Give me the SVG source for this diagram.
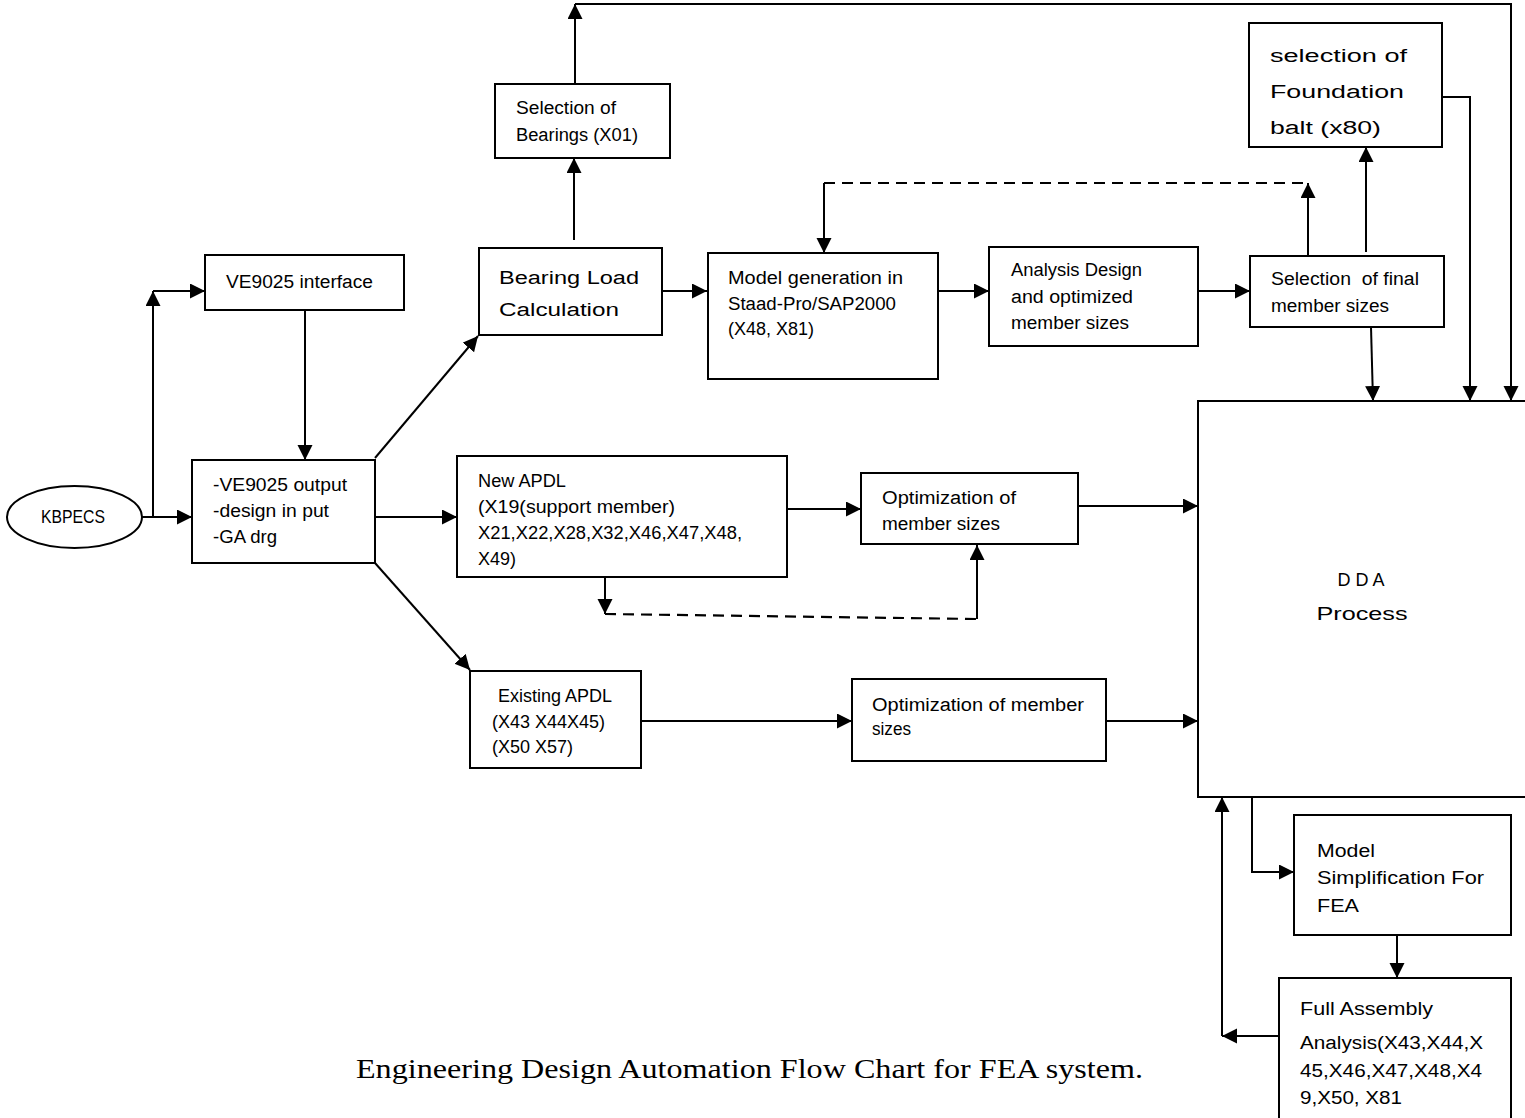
<svg xmlns="http://www.w3.org/2000/svg" width="1525" height="1118" viewBox="0 0 1525 1118">
<style>
.box{fill:#fff;stroke:#000;stroke-width:2}
.t{font-family:"Liberation Sans",Arial,sans-serif;fill:#000;font-size:18px}
.c{fill:none;stroke:#000;stroke-width:2}
.d{fill:none;stroke:#000;stroke-width:2.2;stroke-dasharray:11 7}
.cap{font-family:"Liberation Serif","Times New Roman",serif;font-size:27px;fill:#000}
</style>
<defs>
<marker id="ah" markerUnits="userSpaceOnUse" markerWidth="16" markerHeight="16" refX="15" refY="7.5" orient="auto">
<path d="M0,0 L15,7.5 L0,15 z" fill="#000"/>
</marker>
</defs>
<rect width="1525" height="1118" fill="#fff"/>

<g id="connectors">
<path class="c" d="M142,517 L192,517" marker-end="url(#ah)"/>
<path class="c" d="M153,517 L153,291" marker-end="url(#ah)"/>
<path class="c" d="M153,291 L205,291" marker-end="url(#ah)"/>
<path class="c" d="M305,310 L305,460" marker-end="url(#ah)"/>
<path class="c" d="M370,517 L457,517" marker-end="url(#ah)"/>
<path class="c" d="M375,458 L478,336" marker-end="url(#ah)"/>
<path class="c" d="M375,563 L470,670" marker-end="url(#ah)"/>
<path class="c" d="M574,240 L574,158" marker-end="url(#ah)"/>
<path class="c" d="M575,84 L575,4" marker-end="url(#ah)"/>
<path class="c" d="M575,4 L1511,4 L1511,401" marker-end="url(#ah)"/>
<path class="c" d="M662,291 L707,291" marker-end="url(#ah)"/>
<path class="c" d="M938,291 L989,291" marker-end="url(#ah)"/>
<path class="c" d="M1198,291 L1250,291" marker-end="url(#ah)"/>
<path class="c" d="M1308,256 L1308,183" marker-end="url(#ah)"/>
<path class="d" d="M1303,183 L824,183"/>
<path class="c" d="M824,183 L824,253" marker-end="url(#ah)"/>
<path class="c" d="M1366,252 L1366,147" marker-end="url(#ah)"/>
<path class="c" d="M1371,327 L1373,401" marker-end="url(#ah)"/>
<path class="c" d="M1442,97 L1470,97 L1470,401" marker-end="url(#ah)"/>
<path class="c" d="M787,509 L861,509" marker-end="url(#ah)"/>
<path class="c" d="M605,577 L605,614" marker-end="url(#ah)"/>
<path class="d" d="M605,614 L977,619"/>
<path class="c" d="M977,619 L977,545" marker-end="url(#ah)"/>
<path class="c" d="M1076,506 L1198,506" marker-end="url(#ah)"/>
<path class="c" d="M641,721 L852,721" marker-end="url(#ah)"/>
<path class="c" d="M1106,721 L1198,721" marker-end="url(#ah)"/>
<path class="c" d="M1252,797 L1252,872 L1294,872" marker-end="url(#ah)"/>
<path class="c" d="M1397,935 L1397,978" marker-end="url(#ah)"/>
<path class="c" d="M1279,1036 L1222,1036" marker-end="url(#ah)"/>
<path class="c" d="M1222,1036 L1222,797" marker-end="url(#ah)"/>
</g>

<g id="kbpecs">
<ellipse class="box" cx="74.5" cy="517" rx="67.5" ry="31"/>
<text class="t" x="41" y="523" font-size="16" textLength="64" lengthAdjust="spacingAndGlyphs">KBPECS</text>
</g>

<g id="ve9025-interface">
<rect class="box" x="205" y="255" width="199" height="55"/>
<text class="t" x="226" y="288" textLength="147" lengthAdjust="spacingAndGlyphs">VE9025 interface</text>
</g>

<g id="ve9025-output">
<rect class="box" x="192" y="460" width="183" height="103"/>
<text class="t" x="213" y="491" font-size="19" textLength="134" lengthAdjust="spacingAndGlyphs">-VE9025 output</text>
<text class="t" x="213" y="517" font-size="19" textLength="116" lengthAdjust="spacingAndGlyphs">-design in put</text>
<text class="t" x="213" y="543" font-size="19" textLength="64" lengthAdjust="spacingAndGlyphs">-GA drg</text>
</g>

<g id="selection-bearings">
<rect class="box" x="495" y="84" width="175" height="74"/>
<text class="t" x="516" y="114" font-size="17" textLength="100" lengthAdjust="spacingAndGlyphs">Selection of</text>
<text class="t" x="516" y="141" font-size="17" textLength="122" lengthAdjust="spacingAndGlyphs">Bearings (X01)</text>
</g>

<g id="bearing-load">
<rect class="box" x="479" y="248" width="183" height="87"/>
<text class="t" x="499" y="284" font-size="25" textLength="140" lengthAdjust="spacingAndGlyphs">Bearing Load</text>
<text class="t" x="499" y="316" font-size="25" textLength="120" lengthAdjust="spacingAndGlyphs">Calculation</text>
</g>

<g id="model-generation">
<rect class="box" x="708" y="253" width="230" height="126"/>
<text class="t" x="728" y="284" textLength="175" lengthAdjust="spacingAndGlyphs">Model generation in</text>
<text class="t" x="728" y="310" textLength="168" lengthAdjust="spacingAndGlyphs">Staad-Pro/SAP2000</text>
<text class="t" x="728" y="335" textLength="86" lengthAdjust="spacingAndGlyphs">(X48, X81)</text>
</g>

<g id="analysis-design">
<rect class="box" x="989" y="247" width="209" height="99"/>
<text class="t" x="1011" y="276" textLength="131" lengthAdjust="spacingAndGlyphs">Analysis Design</text>
<text class="t" x="1011" y="303" textLength="122" lengthAdjust="spacingAndGlyphs">and optimized</text>
<text class="t" x="1011" y="329" textLength="118" lengthAdjust="spacingAndGlyphs">member sizes</text>
</g>

<g id="selection-final">
<rect class="box" x="1250" y="256" width="194" height="71"/>
<text class="t" x="1271" y="285" xml:space="preserve" textLength="148" lengthAdjust="spacingAndGlyphs">Selection  of final</text>
<text class="t" x="1271" y="312" textLength="118" lengthAdjust="spacingAndGlyphs">member sizes</text>
</g>

<g id="foundation-bolt">
<rect class="box" x="1249" y="23" width="193" height="124"/>
<text class="t" x="1270" y="62" font-size="26" textLength="137" lengthAdjust="spacingAndGlyphs">selection of</text>
<text class="t" x="1270" y="98" font-size="26" textLength="134" lengthAdjust="spacingAndGlyphs">Foundation</text>
<text class="t" x="1270" y="134" font-size="26" textLength="111" lengthAdjust="spacingAndGlyphs">balt (x80)</text>
</g>

<g id="new-apdl">
<rect class="box" x="457" y="456" width="330" height="121"/>
<text class="t" x="478" y="487" textLength="88" lengthAdjust="spacingAndGlyphs">New APDL</text>
<text class="t" x="478" y="513" textLength="197" lengthAdjust="spacingAndGlyphs">(X19(support member)</text>
<text class="t" x="478" y="539" textLength="264" lengthAdjust="spacingAndGlyphs">X21,X22,X28,X32,X46,X47,X48,</text>
<text class="t" x="478" y="565" textLength="38" lengthAdjust="spacingAndGlyphs">X49)</text>
</g>

<g id="optimization-1">
<rect class="box" x="861" y="473" width="217" height="71"/>
<text class="t" x="882" y="504" textLength="134" lengthAdjust="spacingAndGlyphs">Optimization of</text>
<text class="t" x="882" y="530" textLength="118" lengthAdjust="spacingAndGlyphs">member sizes</text>
</g>

<g id="existing-apdl">
<rect class="box" x="470" y="671" width="171" height="97"/>
<text class="t" x="498" y="702" textLength="114" lengthAdjust="spacingAndGlyphs">Existing APDL</text>
<text class="t" x="492" y="728" textLength="113" lengthAdjust="spacingAndGlyphs">(X43 X44X45)</text>
<text class="t" x="492" y="753" textLength="81" lengthAdjust="spacingAndGlyphs">(X50 X57)</text>
</g>

<g id="optimization-2">
<rect class="box" x="852" y="679" width="254" height="82"/>
<text class="t" x="872" y="711" textLength="212" lengthAdjust="spacingAndGlyphs">Optimization of member</text>
<text class="t" x="872" y="735" textLength="39" lengthAdjust="spacingAndGlyphs">sizes</text>
</g>

<g id="dda-process">
<rect class="box" x="1198" y="401" width="340" height="396"/>
<text class="t" x="1361" y="586" font-size="25" text-anchor="middle" xml:space="preserve">D D A</text>
<text class="t" x="1362" y="620" font-size="25" text-anchor="middle" textLength="91" lengthAdjust="spacingAndGlyphs">Process</text>
</g>

<g id="model-simplification">
<rect class="box" x="1294" y="815" width="217" height="120"/>
<text class="t" x="1317" y="857" font-size="19" textLength="58" lengthAdjust="spacingAndGlyphs">Model</text>
<text class="t" x="1317" y="884" font-size="19" textLength="167" lengthAdjust="spacingAndGlyphs">Simplification For</text>
<text class="t" x="1317" y="912" font-size="23" textLength="42" lengthAdjust="spacingAndGlyphs">FEA</text>
</g>

<g id="full-assembly">
<rect class="box" x="1279" y="978" width="232" height="150"/>
<text class="t" x="1300" y="1015" font-size="19" textLength="133" lengthAdjust="spacingAndGlyphs">Full Assembly</text>
<text class="t" x="1300" y="1049" font-size="19" textLength="183" lengthAdjust="spacingAndGlyphs">Analysis(X43,X44,X</text>
<text class="t" x="1300" y="1077" font-size="19" textLength="182" lengthAdjust="spacingAndGlyphs">45,X46,X47,X48,X4</text>
<text class="t" x="1300" y="1104" font-size="19" textLength="102" lengthAdjust="spacingAndGlyphs">9,X50, X81</text>
</g>

<text class="cap" x="356" y="1078" textLength="787" lengthAdjust="spacingAndGlyphs">Engineering Design Automation Flow Chart for FEA system.</text>
</svg>
